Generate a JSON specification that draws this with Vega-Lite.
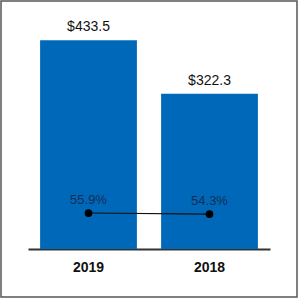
{
  "$schema": "https://vega.github.io/schema/vega-lite/v6.json",
  "width": 296,
  "height": 296,
  "autosize": {"type": "none"},
  "padding": {"left": 1, "top": 1, "right": 1, "bottom": 3},
  "background": "white",
  "config": {
    "view": {"stroke": "#555555", "strokeWidth": 1.5},
    "font": "Liberation Sans"
  },
  "data": {
    "values": [
      {"year": "2019", "revenue": 433.5, "label": "$433.5", "pct": 55.9, "pctLabel": "55.9%"},
      {"year": "2018", "revenue": 322.3, "label": "$322.3", "pct": 54.3, "pctLabel": "54.3%"}
    ]
  },
  "encoding": {
    "x": {
      "field": "year",
      "type": "nominal",
      "sort": ["2019", "2018"],
      "scale": {"range": [27, 269], "paddingInner": 0.2, "paddingOuter": 0.1},
      "axis": {
        "title": null,
        "offset": -48,
        "domainColor": "#333333",
        "domainWidth": 2,
        "ticks": false,
        "labelAngle": 0,
        "labelFont": "Liberation Sans",
        "labelFontSize": 14,
        "labelFontWeight": "bold",
        "labelColor": "#111111",
        "labelPadding": 11
      }
    }
  },
  "layer": [
    {
      "encoding": {
        "y": {
          "field": "revenue",
          "type": "quantitative",
          "scale": {"domain": [-99.6, 514.7], "nice": false, "zero": false},
          "axis": null
        }
      },
      "layer": [
        {"mark": {"type": "bar", "color": "#0068B8", "y2": {"expr": "scale('y', 0)"}}},
        {
          "mark": {"type": "text", "baseline": "bottom", "dy": -6, "fontSize": 14, "color": "#111111", "font": "Liberation Sans"},
          "encoding": {"text": {"field": "label"}}
        }
      ]
    },
    {
      "encoding": {
        "y": {
          "field": "pct",
          "type": "quantitative",
          "scale": {"domain": [-74.5, 385.1], "nice": false, "zero": false},
          "axis": null
        }
      },
      "layer": [
        {"mark": {"type": "line", "color": "#111111", "strokeWidth": 1.2}},
        {"mark": {"type": "point", "filled": true, "color": "#000000", "size": 60, "opacity": 1}},
        {
          "mark": {"type": "text", "baseline": "bottom", "dy": -6, "fontSize": 13, "color": "#142d55", "font": "Liberation Sans"},
          "encoding": {"text": {"field": "pctLabel"}}
        }
      ]
    }
  ],
  "resolve": {"scale": {"y": "independent"}}
}
